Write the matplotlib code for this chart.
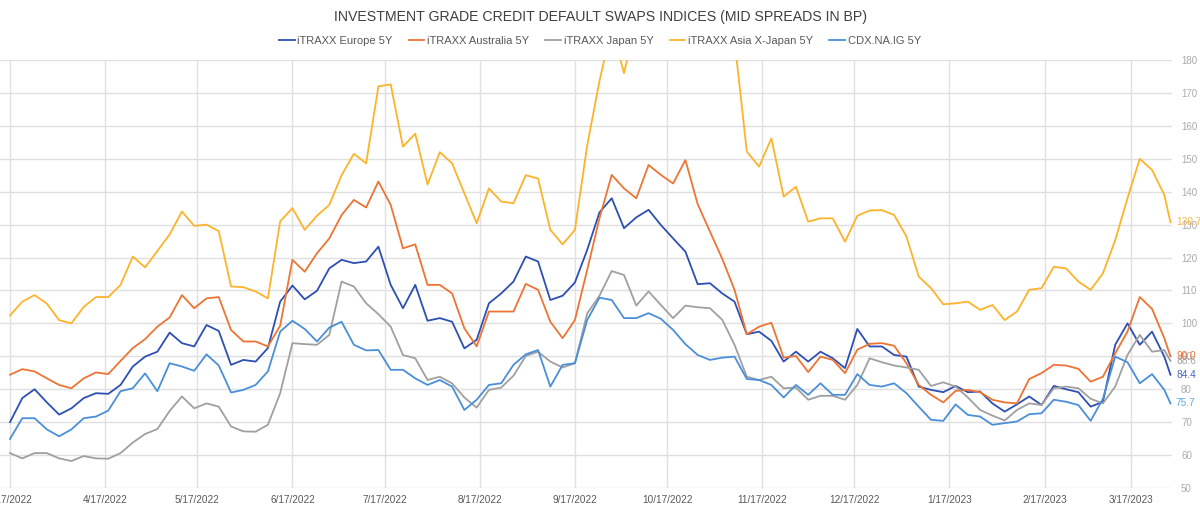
import matplotlib
matplotlib.use("Agg")
import matplotlib.pyplot as plt
import matplotlib.dates as mdates
import pandas as pd
import numpy as np

plt.rcParams['font.family'] = ['Liberation Sans', 'DejaVu Sans']

# ---------------- data ----------------
dates = pd.date_range("2022-03-17", periods=95, freq="4D").append(pd.DatetimeIndex(["2023-03-30"]))

europe = [70, 77.3, 80, 76, 72.3, 74.2, 77.3, 78.8, 78.6, 81.3, 86.9, 89.9, 91.4, 97.2, 94, 93, 99.5, 97.7, 87.4, 88.9, 88.4, 92.5, 106.6, 111.5,
          107.3, 109.9, 116.7, 119.3, 118.3, 118.8, 123.3, 111.7, 104.6, 111.7, 100.8, 101.6, 100.5, 92.4, 95, 106.1, 109.1, 112.7, 120.3, 118.8, 107.1, 108.4, 112.4, 122.3,
          133.7, 138, 128.9, 132.2, 134.5, 129.9, 125.8, 121.8, 111.9, 112.2, 109.1, 106.6, 96.7, 97.5, 94.7, 88.4, 91.4, 88.4, 91.4, 89.4, 86.4, 98.3, 93,
          93, 90.4, 89.9, 80.8, 79.8, 79.1, 81, 79.1, 79.3, 75.7, 73.2, 75.4, 77.8, 75.2, 81, 80, 79.1, 74.7, 76.2, 93.5, 100, 93.5, 97.5, 89.9, 84.4]

australia = [84.4, 86.1, 85.4, 83.3, 81.3, 80.3, 83.3, 85.1, 84.6, 88.6, 92.5, 95.2, 99, 101.8, 108.6, 104.6, 107.6, 108, 98, 94.5, 94.5, 93, 99.3, 119.3,
             115.7, 121.3, 125.8, 132.9, 137.5, 135.2, 143.1, 136, 122.8, 124, 111.7, 111.7, 109.1, 98.5, 93, 103.6, 103.6, 103.6, 112, 110.2, 100.5, 95.5, 101, 116.2,
             131.9, 145.1, 141, 138, 148.1, 145.1, 142.5, 149.6, 136.2, 127.9, 119.6, 110.2, 96.7, 99, 100.2, 89.6, 90.1, 85.2, 89.9, 88.9, 84.9, 92, 93.8,
             94, 93.2, 87.9, 81.3, 78.3, 76, 79.5, 79.8, 79.1, 76.8, 76, 75.7, 83.1, 84.9, 87.4, 87.2, 86.2, 82.3, 83.8, 90.9, 97.5, 108, 104.4, 95.5, 90.0]

japan = [60.6, 59, 60.6, 60.6, 59, 58.2, 59.7, 59, 58.9, 60.6, 63.8, 66.4, 67.9, 73.4, 77.8, 74.2, 75.7, 74.7, 68.7, 67.2, 67.1, 69.2, 78.8, 94,
         93.7, 93.5, 96.5, 112.7, 111.2, 106.1, 102.8, 99, 90.4, 89.4, 82.8, 83.8, 81.8, 77.5, 74.4, 79.8, 80.5, 84.1, 90.1, 91.4, 88.4, 86.6, 87.9, 103,
         108.4, 115.9, 114.7, 105.4, 109.7, 105.6, 101.6, 105.4, 104.9, 104.6, 101.1, 93.5, 83.8, 82.8, 83.8, 80.3, 80.5, 76.8, 78, 78, 76.8, 81.3, 89.4,
         88.2, 87.2, 86.6, 85.9, 81, 82.1, 80.8, 77.5, 73.7, 72, 70.5, 73.7, 75.7, 75.2, 80.3, 80.8, 80.3, 77.1, 75.7, 80.8, 90.4, 96.5, 91.4, 91.9, 88.6]

asia_xj = [102.4, 106.6, 108.6, 106, 101, 100, 105, 108, 108, 111.7, 120.3, 117, 122, 127, 134, 129.6, 130, 128, 111.2, 111, 109.7, 107.6, 131, 135,
           128.4, 132.7, 136, 145, 151.5, 148.6, 172, 172.6, 153.7, 157.6, 142.2, 152, 148.6, 139.5, 130.4, 141, 137, 136.5, 145, 144, 128.4, 124, 128.4, 154,
           173.6, 190, 176, 192, 195, 198, 196, 192, 195, 198, 193, 186, 152.2, 147.6, 156.2, 138.5, 141.5, 130.9, 131.9, 131.9, 124.8, 132.7, 134.3,
           134.4, 132.9, 126.4, 114.2, 110.7, 105.8, 106.1, 106.6, 104.1, 105.6, 101, 103.6, 110.2, 110.7, 117.2, 116.7, 112.7, 110.2, 115.2, 125.3, 138, 150, 146.6, 139, 130.7]

cdx = [64.9, 71.2, 71.2, 67.8, 65.7, 67.8, 71.2, 71.7, 73.5, 79.4, 80.3, 84.8, 79.4, 87.9, 86.9, 85.6, 90.6, 87.2, 79, 79.8, 81.3, 85.4, 97.5, 100.8,
       98.3, 94.5, 98.7, 100.5, 93.5, 91.8, 91.9, 85.9, 85.9, 83.3, 81.3, 82.8, 80.8, 73.7, 76.8, 81.3, 81.8, 87.4, 90.6, 91.9, 80.8, 87.4, 87.9, 101,
       107.8, 107.1, 101.6, 101.6, 103.1, 101.4, 98, 93.7, 90.4, 88.9, 89.6, 89.9, 83.1, 82.8, 81.3, 77.5, 81.3, 78.3, 81.8, 78.3, 78.3, 84.6, 81.3,
       80.8, 81.8, 78.8, 74.7, 70.7, 70.4, 75.4, 72.2, 71.7, 69.2, 69.7, 70.2, 72.4, 72.7, 76.8, 76.2, 75.2, 70.4, 77.1, 89.9, 88.2, 81.8, 84.6, 79.8, 75.7]

series_names = ["iTRAXX Europe 5Y", "iTRAXX Australia 5Y", "iTRAXX Japan 5Y", "iTRAXX Asia X-Japan 5Y", "CDX.NA.IG 5Y"]
series_values = [europe, australia, japan, asia_xj, cdx]
line_colors = ["#2E4FB3", "#EE7433", "#A0A0A0", "#FDB32B", "#4A8FD8"]
label_colors = ["#4763C4", "#EE7433", "#A0A0A0", "#F7B84A", "#5AA8E6"]

title = "INVESTMENT GRADE CREDIT DEFAULT SWAPS INDICES (MID SPREADS IN BP)"
month_ticks = pd.date_range("2022-03-01", "2023-03-01", freq="MS") + pd.Timedelta(days=16)
y_ticks = list(range(50, 190, 10))

# ---------------- figure ----------------
W, H = 1200, 512
fig = plt.figure(figsize=(W / 100, H / 100), dpi=100)
ax_left, ax_right = 0 / W, 1172 / W
ax_bottom, ax_top = 1 - 488 / H, 1 - 60 / H
ax = fig.add_axes([ax_left, ax_bottom, ax_right - ax_left, ax_top - ax_bottom])

for name, vals, col in zip(series_names, series_values, line_colors):
    ax.plot(dates, vals, color=col, lw=1.3, label=name, solid_joinstyle="round")

start = pd.Timestamp("2022-03-17")
ax.set_xlim(start - pd.Timedelta(days=3.26), start + pd.Timedelta(days=378.5))
ax.set_ylim(50, 180)

ax.set_xticks(month_ticks)
ax.xaxis.set_major_formatter(mdates.DateFormatter("%-m/%-d/%Y"))
ax.set_yticks(y_ticks)
ax.yaxis.tick_right()
ax.tick_params(axis="y", length=0, pad=6.5, labelsize=7, labelcolor="#AAAAAA")
ax.tick_params(axis="x", length=0, pad=5, labelsize=7.2, labelcolor="#595959")

ax.grid(True, color="#E0E0E0", lw=1.0)
ax.set_axisbelow(True)
for s in ax.spines.values():
    s.set_visible(False)

for vals, col in zip(series_values, label_colors):
    ax.annotate(f"{vals[-1]:.1f}", xy=(dates[-1], vals[-1]), xytext=(4, 0),
                textcoords="offset points", va="center", ha="left",
                color=col, fontsize=7.3, annotation_clip=False)

fig.text(0.5, 1 - 17 / H, title, ha="center", va="center", fontsize=10.2, color="#404040")
fig.legend(loc="center", bbox_to_anchor=(0.5, 1 - 41 / H), ncol=5, frameon=False,
           fontsize=8, handlelength=1.4, handletextpad=0.25, columnspacing=1.45,
           labelcolor="#595959")

fig.savefig("out.png", dpi=100)
